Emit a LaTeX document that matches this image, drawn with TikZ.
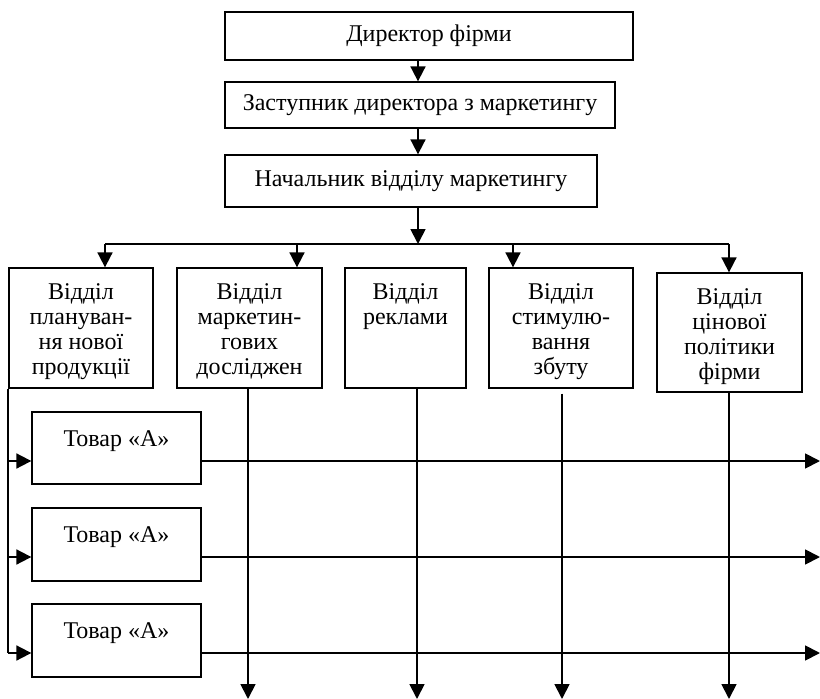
\documentclass[tikz,border=0pt]{standalone}
\usepackage{fontspec}
\setmainfont{Liberation Serif}
\usetikzlibrary{arrows.meta}
\begin{document}
\begin{tikzpicture}[x=1pt,y=-1pt,
  box/.style={draw,line width=1.3pt,rectangle,inner sep=0pt},
  txt/.style={inner sep=0pt,align=center,font=\fontsize{24}{25}\selectfont},
  conn/.style={line width=1.8pt},
  arr/.style={line width=1.8pt,-{Triangle[length=15pt,width=15pt]}}]
\useasboundingbox (0,0) rectangle (820,699);
% top chain
\node[box,minimum width=408pt,minimum height=48pt] (dir) at (429,36) {};
\node[txt] (dirt) at (dir.center) {Директор фірми};
\node[box,minimum width=390pt,minimum height=46pt] (zam) at (420,105) {};
\node[txt] (zamt) at (zam.center) {Заступник директора з маркетингу};
\node[box,minimum width=372pt,minimum height=52pt] (nach) at (411,181) {};
\node[txt] (nacht) at (nach.center) {Начальник відділу маркетингу};
\coordinate (cx) at (418,0);
\draw[arr] (dir.south -| cx) -- (zam.north -| cx);
\draw[arr] (zam.south -| cx) -- (nach.north -| cx);
% departments
\node[box,minimum width=144pt,minimum height=120pt] (b1) at (81,328) {};
\node[box,minimum width=145pt,minimum height=120pt] (b2) at (249.5,328) {};
\node[box,minimum width=121pt,minimum height=120pt] (b3) at (405.5,328) {};
\node[box,minimum width=144pt,minimum height=120pt] (b4) at (561,328) {};
\node[box,minimum width=145pt,minimum height=119pt] (b5) at (729.5,332.5) {};
\node[txt,anchor=north] (b1t) at ([yshift=-16pt]b1.north) {Відділ\\плануван-\\ня нової\\продукції};
\node[txt,anchor=north] (b2t) at ([yshift=-16pt]b2.north) {Відділ\\маркетин-\\гових\\досліджен};
\node[txt,anchor=north] (b3t) at ([yshift=-16pt]b3.north) {Відділ\\реклами};
\node[txt,anchor=north] (b4t) at ([yshift=-16pt]b4.north) {Відділ\\стимулю-\\вання\\збуту};
\node[txt,anchor=north] (b5t) at ([yshift=-16pt]b5.north) {Відділ\\цінової\\політики\\фірми};
% distribution line
\coordinate (hl) at (0,244);
\coordinate (x1) at (105,0);
\coordinate (x2) at (297,0);
\coordinate (x4) at (513,0);
\coordinate (x5) at (729,0);
\draw[arr] (nach.south -| cx) -- (hl -| cx);
\draw[conn] (hl -| x1) -- (hl -| x5);
\draw[arr] (hl -| x1) -- (b1.north -| x1);
\draw[arr] (hl -| x2) -- (b2.north -| x2);
\draw[arr] (hl -| x4) -- (b4.north -| x4);
\draw[arr] (hl -| x5) -- (b5.north -| x5);
% products
\node[box,minimum width=169pt,minimum height=72pt] (t1) at (116.5,448) {};
\node[box,minimum width=169pt,minimum height=73pt] (t2) at (116.5,544.5) {};
\node[box,minimum width=169pt,minimum height=73pt] (t3) at (116.5,640.5) {};
\node[txt] (t1t) at ([yshift=7pt]t1.center) {Товар «А»};
\node[txt] (t2t) at ([yshift=7pt]t2.center) {Товар «А»};
\node[txt] (t3t) at ([yshift=7pt]t3.center) {Товар «А»};
\coordinate (r1) at (0,461);
\coordinate (r2) at (0,557);
\coordinate (r3) at (0,653);
\coordinate (xl) at (8,0);
\coordinate (xr) at (820,0);
\coordinate (yb) at (0,699);
\draw[conn] (b1.south -| xl) -- (r3 -| xl);
\draw[arr] (r1 -| xl) -- (r1 -| t1.west);
\draw[arr] (r2 -| xl) -- (r2 -| t2.west);
\draw[arr] (r3 -| xl) -- (r3 -| t3.west);
\draw[arr] (r1 -| t1.east) -- (r1 -| xr);
\draw[arr] (r2 -| t2.east) -- (r2 -| xr);
\draw[arr] (r3 -| t3.east) -- (r3 -| xr);
% verticals
\coordinate (v2) at (248,0);
\coordinate (v3) at (417,0);
\coordinate (v4) at (562,0);
\coordinate (v5) at (729,0);
\draw[arr] (b2.south -| v2) -- (yb -| v2);
\draw[arr] (b3.south -| v3) -- (yb -| v3);
\draw[arr] ([yshift=-5pt]b4.south -| v4) -- (yb -| v4);
\draw[arr] (b5.south -| v5) -- (yb -| v5);
\end{tikzpicture}
\end{document}
